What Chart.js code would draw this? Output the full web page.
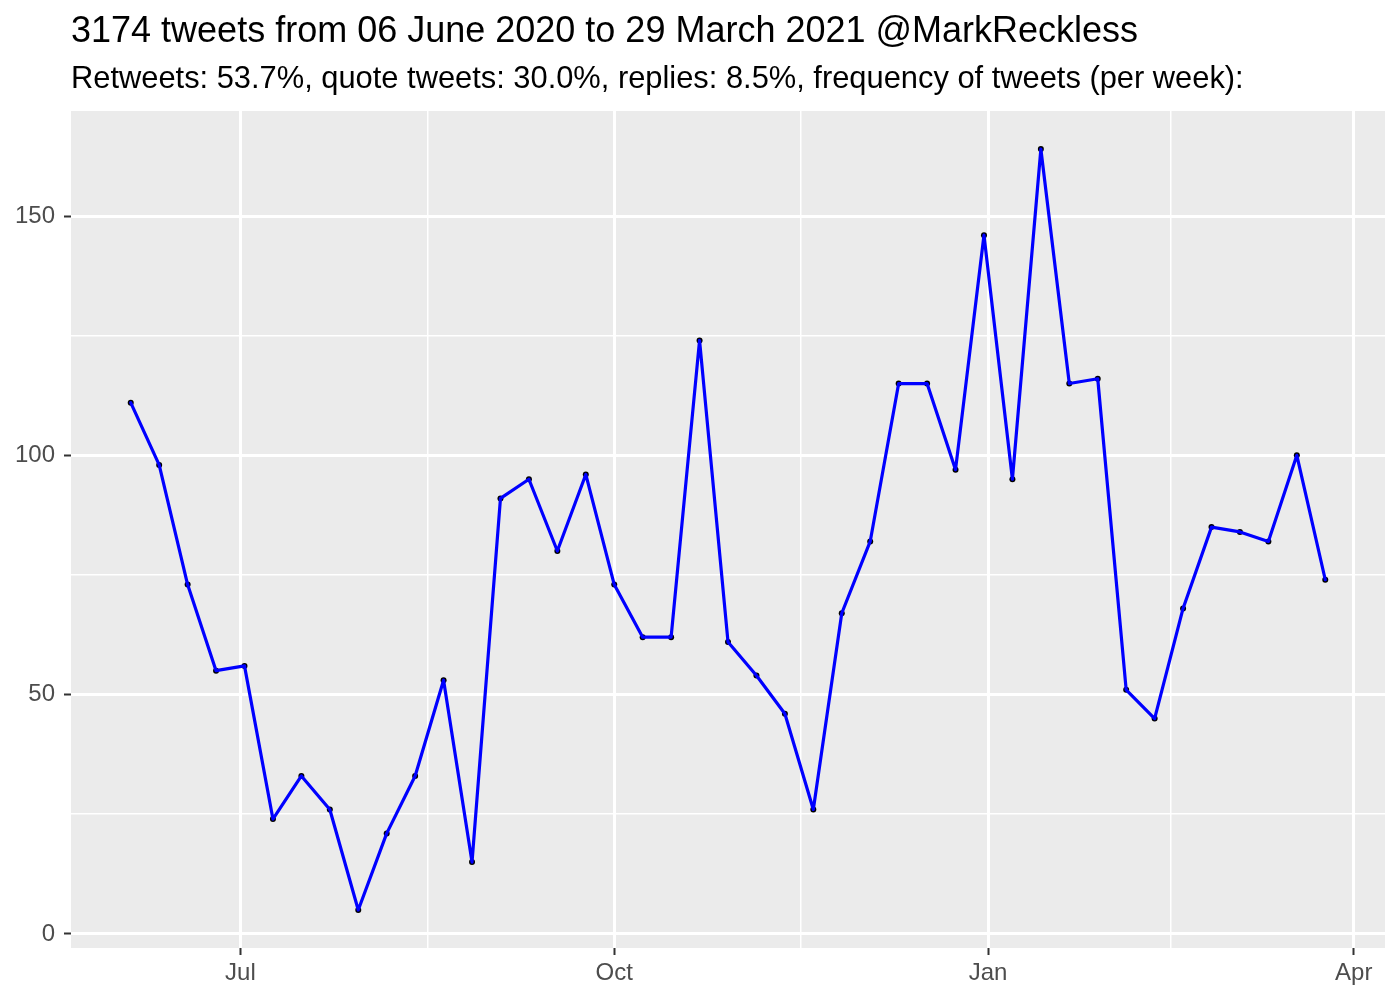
<!DOCTYPE html>
<html>
<head>
<meta charset="utf-8">
<script src="https://cdn.jsdelivr.net/npm/chart.js@4.4.1/dist/chart.umd.min.js"></script>
<style>
html,body{margin:0;padding:0;background:#ffffff;}
#wrap{position:relative;width:1400px;height:1000px;}
canvas{display:block;}
</style>
</head>
<body>
<div id="wrap"><canvas id="c" width="1400" height="1000"></canvas></div>
<script>
// ---- data ----
const weekStarts = [
  '2020-06-04','2020-06-11','2020-06-18','2020-06-25','2020-07-02','2020-07-09','2020-07-16','2020-07-23','2020-07-30',
  '2020-08-06','2020-08-13','2020-08-20','2020-08-27','2020-09-03','2020-09-10','2020-09-17','2020-09-24',
  '2020-10-01','2020-10-08','2020-10-15','2020-10-22','2020-10-29','2020-11-05','2020-11-12','2020-11-19','2020-11-26',
  '2020-12-03','2020-12-10','2020-12-17','2020-12-24','2020-12-31','2021-01-07','2021-01-14','2021-01-21','2021-01-28',
  '2021-02-04','2021-02-11','2021-02-18','2021-02-25','2021-03-04','2021-03-11','2021-03-18','2021-03-25'
];
const tweetsPerWeek = [
  111, 98, 73, 55, 56, 24, 33, 26, 5,
  21, 33, 53, 15, 91, 95, 80, 96,
  73, 62, 62, 124, 61, 54, 46, 26, 67,
  82, 115, 115, 97, 146, 95, 164, 115, 116,
  51, 45, 68, 85, 84, 82, 100, 74
];
const xMajorDates = ['2020-07-01','2020-10-01','2021-01-01','2021-04-01'];
const xMajorLabels = ['Jul','Oct','Jan','Apr'];
const yMajorTicks = [0, 50, 100, 150];
const titleText = '3174 tweets from 06 June 2020 to 29 March 2021 @MarkReckless';
const subtitleText = 'Retweets: 53.7%, quote tweets: 30.0%, replies: 8.5%, frequency of tweets (per week):';

// ---- derived ----
const FONT = '"Liberation Sans", Arial, Helvetica, sans-serif';
const toDay = s => { const p = s.split('-').map(Number); return Date.UTC(p[0], p[1] - 1, p[2]) / 86400000; };
const xVals = weekStarts.map(toDay);
const points = xVals.map((x, i) => ({ x: x, y: tweetsPerWeek[i] }));

const xLo = Math.min(...xVals), xHi = Math.max(...xVals);
const xPad = (xHi - xLo) * 0.05;
const xMin = xLo - xPad, xMax = xHi + xPad;
const yLo = Math.min(...tweetsPerWeek), yHi = Math.max(...tweetsPerWeek);
const yPad = (yHi - yLo) * 0.05;
const yMin = yLo - yPad, yMax = yHi + yPad;

function withMinors(majors, labels) {
  const list = majors.map((v, i) => ({ value: v, isMajor: true, lab: labels[i] }));
  const step0 = majors[1] - majors[0];
  const stepN = majors[majors.length - 1] - majors[majors.length - 2];
  list.push({ value: majors[0] - step0 / 2, isMajor: false, lab: '' });
  for (let i = 0; i < majors.length - 1; i++) list.push({ value: (majors[i] + majors[i + 1]) / 2, isMajor: false, lab: '' });
  list.push({ value: majors[majors.length - 1] + stepN / 2, isMajor: false, lab: '' });
  return list.sort((a, b) => a.value - b.value);
}
const xTickList = withMinors(xMajorDates.map(toDay), xMajorLabels).filter(t => t.value >= xMin && t.value <= xMax);
const yTickList = withMinors(yMajorTicks, yMajorTicks.map(String)).filter(t => t.value >= yMin && t.value <= yMax);
const xLabelMap = new Map(xTickList.map(t => [t.value, t.lab]));
const yLabelMap = new Map(yTickList.map(t => [t.value, t.lab]));

const panelBg = {
  id: 'panelBg',
  beforeDraw(chart) {
    const { ctx, chartArea: a } = chart;
    ctx.save();
    ctx.fillStyle = '#ffffff';
    ctx.fillRect(0, 0, chart.width, chart.height);
    ctx.fillStyle = '#EBEBEB';
    ctx.fillRect(a.left, a.top, a.right - a.left, a.bottom - a.top);
    ctx.restore();
  }
};

const gridOpts = {
  color: '#ffffff',
  lineWidth: c => (c.tick && c.tick.isMajor) ? 3 : 1.5,
  tickColor: c => (c.tick && c.tick.isMajor) ? '#333333' : 'rgba(0,0,0,0)',
  tickWidth: 2,
  tickLength: 7,
  drawTicks: true
};

new Chart(document.getElementById('c'), {
  type: 'line',
  data: {
    datasets: [
      {
        label: 'tweets per week',
        data: points,
        borderColor: '#0000FF',
        borderWidth: 3.2,
        borderJoinStyle: 'round',
        borderCapStyle: 'round',
        pointRadius: 0,
        tension: 0,
        fill: false,
        order: 0
      },
      {
        label: 'points',
        data: points,
        showLine: false,
        pointRadius: 3,
        pointBorderWidth: 0,
        pointBackgroundColor: '#000000',
        pointBorderColor: '#000000',
        order: 1
      }
    ]
  },
  options: {
    responsive: false,
    animation: false,
    devicePixelRatio: 1,
    layout: { padding: { top: 0, left: 0, right: 15, bottom: 0 } },
    plugins: {
      legend: { display: false },
      tooltip: { enabled: false },
      title: {
        display: true,
        text: titleText,
        align: 'start',
        fullSize: false,
        color: '#000000',
        font: { family: FONT, size: 36, weight: 'normal', lineHeight: 1 },
        padding: { top: 14, bottom: 0 }
      },
      subtitle: {
        display: true,
        text: subtitleText,
        align: 'start',
        fullSize: false,
        color: '#000000',
        font: { family: FONT, size: 30.85, weight: 'normal', lineHeight: 1 },
        padding: { top: 14, bottom: 16.15 }
      }
    },
    scales: {
      x: {
        type: 'linear',
        min: xMin,
        max: xMax,
        afterBuildTicks: s => { s.ticks = xTickList.map(t => ({ value: t.value, isMajor: t.isMajor })); },
        afterFit: s => { s.height = 52; },
        border: { display: false },
        grid: gridOpts,
        ticks: {
          autoSkip: false,
          maxRotation: 0,
          color: '#4D4D4D',
          font: { family: FONT, size: 24 },
          padding: 4,
          callback: v => xLabelMap.has(v) ? xLabelMap.get(v) : ''
        }
      },
      y: {
        type: 'linear',
        min: yMin,
        max: yMax,
        afterBuildTicks: s => { s.ticks = yTickList.map(t => ({ value: t.value, isMajor: t.isMajor })); },
        afterFit: s => { s.width = 71; },
        border: { display: false },
        grid: gridOpts,
        ticks: {
          autoSkip: false,
          color: '#4D4D4D',
          font: { family: FONT, size: 24 },
          padding: 9,
          callback: v => yLabelMap.has(v) ? yLabelMap.get(v) : ''
        }
      }
    }
  },
  plugins: [panelBg]
});
</script>
</body>
</html>
